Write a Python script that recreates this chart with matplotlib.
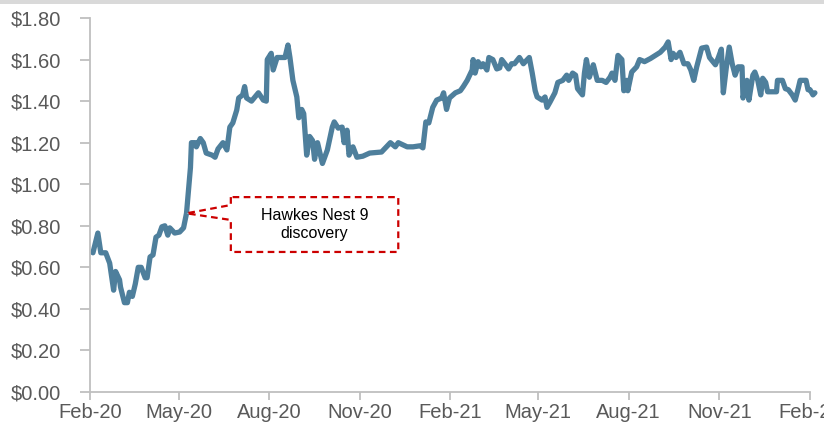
import matplotlib
matplotlib.use("Agg")
import matplotlib.pyplot as plt
import matplotlib.dates as mdates
from matplotlib.patches import Polygon, Rectangle
import pandas as pd

plt.rcParams["font.family"] = ["Liberation Sans", "DejaVu Sans"]

# share price readings (AUD)
dates = [
    "2020-02-04", "2020-02-09", "2020-02-12", "2020-02-17", "2020-02-21", "2020-02-25",
    "2020-02-27", "2020-03-02", "2020-03-03", "2020-03-07", "2020-03-10", "2020-03-12",
    "2020-03-15", "2020-03-18", "2020-03-21", "2020-03-24", "2020-03-28", "2020-03-30",
    "2020-04-02", "2020-04-05", "2020-04-08", "2020-04-11", "2020-04-14", "2020-04-17",
    "2020-04-20", "2020-04-22", "2020-04-27", "2020-05-02", "2020-05-06", "2020-05-09",
    "2020-05-13", "2020-05-14", "2020-05-18", "2020-05-19", "2020-05-23", "2020-05-26",
    "2020-05-29", "2020-06-04", "2020-06-07", "2020-06-10", "2020-06-15", "2020-06-19",
    "2020-06-22", "2020-06-25", "2020-06-29", "2020-07-01", "2020-07-05", "2020-07-07",
    "2020-07-09", "2020-07-14", "2020-07-21", "2020-07-26", "2020-07-29", "2020-07-30",
    "2020-08-03", "2020-08-05", "2020-08-09", "2020-08-14", "2020-08-17", "2020-08-20",
    "2020-08-22", "2020-08-25", "2020-08-29", "2020-08-31", "2020-09-03", "2020-09-05",
    "2020-09-08", "2020-09-11", "2020-09-14", "2020-09-16", "2020-09-19", "2020-09-24",
    "2020-09-29", "2020-10-04", "2020-10-06", "2020-10-10", "2020-10-14", "2020-10-16",
    "2020-10-19", "2020-10-21", "2020-10-25", "2020-10-29", "2020-11-04", "2020-11-11",
    "2020-11-23", "2020-12-02", "2020-12-07", "2020-12-10", "2020-12-19", "2020-12-25",
    "2021-01-01", "2021-01-04", "2021-01-07", "2021-01-10", "2021-01-14", "2021-01-18",
    "2021-01-23", "2021-01-25", "2021-01-28", "2021-01-31", "2021-02-06", "2021-02-11",
    "2021-02-14", "2021-02-18", "2021-02-19", "2021-02-23", "2021-02-24", "2021-02-26",
    "2021-03-01", "2021-03-04", "2021-03-06", "2021-03-10", "2021-03-12", "2021-03-16",
    "2021-03-20", "2021-03-23", "2021-03-25", "2021-03-29", "2021-04-01", "2021-04-04",
    "2021-04-07", "2021-04-12", "2021-04-16", "2021-04-22", "2021-04-25", "2021-04-28",
    "2021-04-30", "2021-05-05", "2021-05-08", "2021-05-10", "2021-05-13", "2021-05-18",
    "2021-05-21", "2021-05-26", "2021-05-30", "2021-06-01", "2021-06-05", "2021-06-08",
    "2021-06-10", "2021-06-15", "2021-06-17", "2021-06-19", "2021-06-22", "2021-06-26",
    "2021-06-30", "2021-07-05", "2021-07-09", "2021-07-13", "2021-07-15", "2021-07-18",
    "2021-07-21", "2021-07-25", "2021-07-27", "2021-07-30", "2021-07-31", "2021-08-04",
    "2021-08-09", "2021-08-12", "2021-08-17", "2021-08-23", "2021-08-28", "2021-09-02",
    "2021-09-07", "2021-09-10", "2021-09-13", "2021-09-15", "2021-09-18", "2021-09-22",
    "2021-09-26", "2021-09-30", "2021-10-03", "2021-10-06", "2021-10-09", "2021-10-14",
    "2021-10-19", "2021-10-22", "2021-10-28", "2021-10-31", "2021-11-03", "2021-11-05",
    "2021-11-08", "2021-11-11", "2021-11-14", "2021-11-17", "2021-11-20", "2021-11-24",
    "2021-11-25", "2021-11-29", "2021-12-01", "2021-12-05", "2021-12-07", "2021-12-10",
    "2021-12-13", "2021-12-15", "2021-12-18", "2021-12-20", "2021-12-29", "2021-12-30",
    "2022-01-04", "2022-01-07", "2022-01-10", "2022-01-14", "2022-01-17", "2022-01-20",
    "2022-01-22", "2022-01-28", "2022-01-30", "2022-02-01", "2022-02-04", "2022-02-06",
]
prices = [
    0.67, 0.765, 0.67, 0.67, 0.62, 0.49,
    0.58, 0.54, 0.505, 0.43, 0.43, 0.48,
    0.46, 0.52, 0.60, 0.60, 0.55, 0.55,
    0.65, 0.66, 0.745, 0.755, 0.795, 0.80,
    0.755, 0.79, 0.765, 0.77, 0.79, 0.86,
    1.08, 1.20, 1.20, 1.18, 1.22, 1.20,
    1.15, 1.14, 1.13, 1.17, 1.20, 1.165,
    1.275, 1.295, 1.357, 1.415, 1.43, 1.47,
    1.415, 1.40, 1.44, 1.405, 1.40, 1.60,
    1.63, 1.55, 1.61, 1.61, 1.61, 1.67,
    1.61, 1.50, 1.42, 1.32, 1.36, 1.34,
    1.14, 1.23, 1.21, 1.12, 1.20, 1.10,
    1.165, 1.275, 1.30, 1.27, 1.275, 1.20,
    1.26, 1.14, 1.18, 1.13, 1.135, 1.15,
    1.155, 1.20, 1.18, 1.20, 1.18, 1.18,
    1.185, 1.175, 1.30, 1.295, 1.37, 1.405,
    1.415, 1.44, 1.36, 1.415, 1.44, 1.45,
    1.47, 1.50, 1.51, 1.55, 1.60, 1.535,
    1.59, 1.565, 1.58, 1.55, 1.61, 1.60,
    1.555, 1.56, 1.60, 1.575, 1.555, 1.58,
    1.58, 1.61, 1.58, 1.61, 1.535, 1.45,
    1.42, 1.405, 1.42, 1.37, 1.395, 1.44,
    1.49, 1.50, 1.525, 1.50, 1.535, 1.525,
    1.46, 1.43, 1.535, 1.60, 1.515, 1.575,
    1.50, 1.50, 1.49, 1.515, 1.535, 1.50,
    1.62, 1.60, 1.45, 1.50, 1.45, 1.54,
    1.565, 1.60, 1.59, 1.605, 1.62, 1.635,
    1.66, 1.685, 1.60, 1.63, 1.61, 1.635,
    1.58, 1.58, 1.55, 1.50, 1.565, 1.655,
    1.66, 1.61, 1.575, 1.61, 1.65, 1.44,
    1.56, 1.66, 1.58, 1.525, 1.565, 1.565,
    1.415, 1.50, 1.405, 1.525, 1.54, 1.50,
    1.43, 1.51, 1.49, 1.445, 1.445, 1.50,
    1.50, 1.46, 1.455, 1.43, 1.405, 1.46,
    1.50, 1.50, 1.455, 1.455, 1.43, 1.44,
]

yticks = [0.0, 0.2, 0.4, 0.6, 0.8, 1.0, 1.2, 1.4, 1.6, 1.8]
note_text = "Hawkes Nest 9\ndiscovery"
note_date = "2020-05-09"
note_price = 0.86

x = pd.to_datetime(dates)
grey = "#595959"
axis_grey = "#BFBFBF"

fig = plt.figure(figsize=(8.24, 4.24), dpi=100)
fig.patches.append(Rectangle((0, 0.99), 1, 0.01, transform=fig.transFigure,
                             facecolor="#D9D9D9", edgecolor="none"))
ax = fig.add_axes([0.1092, 0.0755, 0.8738, 0.882])

ax.plot(x, prices, color="#4E7F9C", lw=3.8, solid_joinstyle="round",
        solid_capstyle="round", clip_on=False)

ax.set_ylim(0, 1.8)
ax.set_yticks(yticks)
ax.set_yticklabels([f"${v:.2f}" for v in yticks])
ax.set_xlim(pd.Timestamp("2020-02-01"), pd.Timestamp("2022-02-01"))
ax.xaxis.set_major_locator(mdates.MonthLocator(bymonth=[2, 5, 8, 11]))
ax.xaxis.set_major_formatter(mdates.DateFormatter("%b-%y"))

for s in ["top", "right"]:
    ax.spines[s].set_visible(False)
for s in ["left", "bottom"]:
    ax.spines[s].set_color(axis_grey)
    ax.spines[s].set_linewidth(1.3)
ax.tick_params(axis="y", direction="out", length=7, width=1.3, color=axis_grey,
               labelsize=14.5, labelcolor=grey, pad=14)
ax.tick_params(axis="x", direction="out", length=6, width=1.3, color=axis_grey,
               labelsize=14.5, labelcolor=grey, pad=2)

# callout box with wedge pointing at the discovery date
px = mdates.date2num(pd.Timestamp(note_date))
bx0 = mdates.date2num(pd.Timestamp("2020-06-23"))
bx1 = mdates.date2num(pd.Timestamp("2020-12-10"))
by0, by1 = 0.674, 0.938
callout = Polygon(
    [(bx0, by1), (bx0, 0.90), (px, note_price), (bx0, 0.828), (bx0, by0),
     (bx1, by0), (bx1, by1)],
    closed=True, facecolor="white", edgecolor="#CC0000", lw=1.6,
    linestyle=(0, (3, 2)), zorder=3)
ax.add_patch(callout)
ax.text((bx0 + bx1) / 2, (by0 + by1) / 2, note_text, ha="center", va="center",
        fontsize=11.5, color="black", linespacing=1.3, zorder=4)

fig.savefig("out.png", dpi=100)
